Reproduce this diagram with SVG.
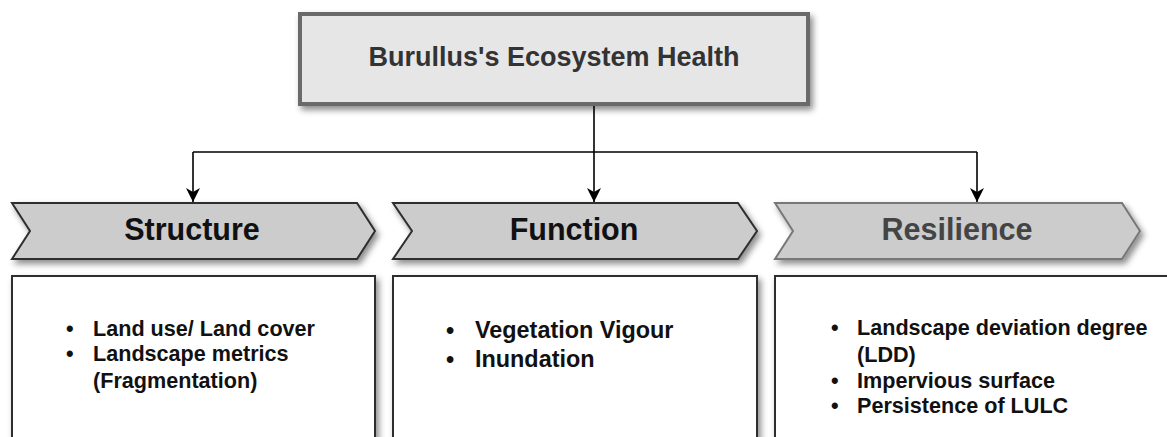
<svg xmlns="http://www.w3.org/2000/svg" width="1167" height="437" viewBox="0 0 1167 437">
<style>
.t{font-family:"Liberation Sans",Arial,sans-serif;font-weight:bold}
.chev{fill:#cccccc;stroke:#2e2e2e;stroke-width:2}
.box{fill:#ffffff;stroke:#2e2e2e;stroke-width:2}
.conn{stroke:#000;stroke-width:1.6;fill:none}
.hd{font-size:30.5px;fill:#111;text-anchor:middle}
.it{font-size:21.6px;fill:#111}
</style>
<defs>
<filter id="sh" x="-10%" y="-20%" width="120%" height="150%">
<feDropShadow dx="3" dy="4" stdDeviation="3" flood-color="#000" flood-opacity="0.45"/>
</filter>
<marker id="ad" viewBox="0 0 14 14" refX="14" refY="7" markerWidth="14" markerHeight="14" orient="auto" markerUnits="userSpaceOnUse">
<path d="M0,0 L14,7 L0,14 L4,7 Z" fill="#000"/>
</marker>
</defs>
<g id="connectors">
<path class="conn" d="M594,106 L594,202" marker-end="url(#ad)"/>
<path class="conn" d="M193,152 L977,152"/>
<path class="conn" d="M193,152 L193,202" marker-end="url(#ad)"/>
<path class="conn" d="M977,152 L977,202" marker-end="url(#ad)"/>
</g>
<g id="root">
<rect x="300" y="14" width="508" height="90" fill="#e6e6e6" stroke="#6b6b6b" stroke-width="4" filter="url(#sh)"/>
<text class="t" x="554" y="66" font-size="27" fill="#333" text-anchor="middle">Burullus's Ecosystem Health</text>
</g>
<g id="structure">
<polygon class="chev" points="12,203 357,203 375,231 357,259 12,259 30,231" filter="url(#sh)"/>
<text class="t hd" x="192" y="240">Structure</text>
</g>
<g id="function">
<polygon class="chev" points="393,203 738,203 757,231 738,259 393,259 412,231" filter="url(#sh)"/>
<text class="t hd" x="574" y="240">Function</text>
</g>
<g id="resilience">
<polygon class="chev" points="775,203 1122,203 1140,231 1122,259 775,259 793,231" style="stroke:#777" filter="url(#sh)"/>
<text class="t hd" x="957" y="240" style="fill:#444">Resilience</text>
</g>
<g id="structure-items">
<rect class="box" x="12" y="276" width="363" height="180" filter="url(#sh)"/>
<text class="t it" x="66" y="336">•</text>
<text class="t it" x="93" y="336">Land use/ Land cover</text>
<text class="t it" x="66" y="361">•</text>
<text class="t it" x="93" y="361">Landscape metrics</text>
<text class="t it" x="93" y="388">(Fragmentation)</text>
</g>
<g id="function-items">
<rect class="box" x="393" y="276" width="364" height="180" filter="url(#sh)"/>
<text class="t it" x="446" y="338" style="font-size:23.4px">•</text>
<text class="t it" x="475" y="338" style="font-size:23.4px">Vegetation Vigour</text>
<text class="t it" x="446" y="367" style="font-size:23.4px">•</text>
<text class="t it" x="475" y="367" style="font-size:23.4px">Inundation</text>
</g>
<g id="resilience-items">
<rect class="box" x="775" y="276" width="400" height="180" filter="url(#sh)"/>
<text class="t it" x="831" y="335">•</text>
<text class="t it" x="857" y="335">Landscape deviation degree</text>
<text class="t it" x="857" y="362">(LDD)</text>
<text class="t it" x="831" y="388">•</text>
<text class="t it" x="857" y="388">Impervious surface</text>
<text class="t it" x="831" y="413">•</text>
<text class="t it" x="857" y="413">Persistence of LULC</text>
</g>
</svg>
